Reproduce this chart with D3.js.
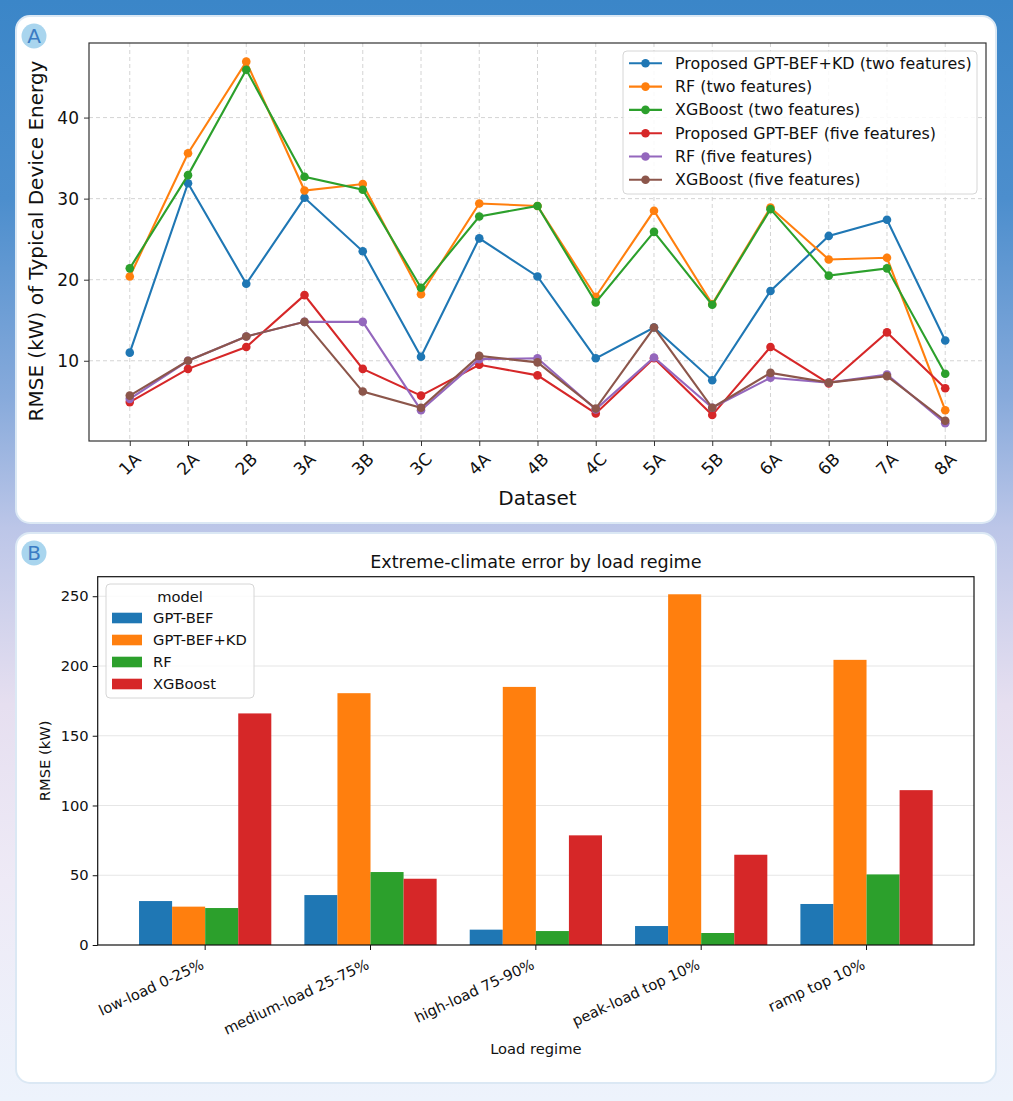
<!DOCTYPE html>
<html>
<head>
<meta charset="utf-8">
<script src="https://cdn.jsdelivr.net/npm/d3@7"></script>
<style>
    body { margin: 0; padding: 0; }
    svg { display: block; font-family: "DejaVu Sans", sans-serif; }
</style>
</head>
<body>
<script>
/*
*    two panel chart: RMSE by dataset + extreme-climate bars
*/

var width = 1013;
var height = 1101;

// Panel A data
var datasets = ["1A", "2A", "2B", "3A", "3B", "3C", "4A", "4B", "4C", "5A", "5B", "6A", "6B", "7A", "8A"];
var seriesNamesA = [
    "Proposed GPT-BEF+KD (two features)",
    "RF (two features)",
    "XGBoost (two features)",
    "Proposed GPT-BEF (five features)",
    "RF (five features)",
    "XGBoost (five features)"
];
var kdTwo   = [11.0, 31.9, 19.5, 30.1, 23.5, 10.5, 25.1, 20.4, 10.3, 14.1, 7.6, 18.6, 25.4, 27.4, 12.5];
var rfTwo   = [20.4, 35.6, 46.9, 31.0, 31.8, 18.2, 29.4, 29.1, 17.9, 28.5, 17.0, 28.9, 22.5, 22.7, 3.9];
var xgbTwo  = [21.4, 32.9, 45.9, 32.7, 31.1, 19.0, 27.8, 29.1, 17.2, 25.9, 16.9, 28.7, 20.5, 21.4, 8.4];
var gptFive = [4.9, 9.0, 11.7, 18.1, 9.0, 5.7, 9.5, 8.2, 3.5, 10.3, 3.3, 11.7, 7.2, 13.5, 6.6];
var rfFive  = [5.3, 10.0, 13.0, 14.8, 14.8, 3.9, 10.2, 10.3, 4.0, 10.4, 4.2, 7.9, 7.3, 8.3, 2.3];
var xgbFive = [5.7, 10.0, 13.0, 14.8, 6.2, 4.2, 10.6, 9.8, 4.1, 14.1, 4.2, 8.5, 7.3, 8.1, 2.6];
var yTicksA = [10, 20, 30, 40];

// Panel B data
var regimes = ["low-load 0-25%", "medium-load 25-75%", "high-load 75-90%", "peak-load top 10%", "ramp top 10%"];
var models = ["GPT-BEF", "GPT-BEF+KD", "RF", "XGBoost"];
var gptBef   = [31.5, 35.8, 11.0, 13.6, 29.4];
var gptBefKd = [27.5, 180.5, 185.0, 251.4, 204.4];
var rfB      = [26.5, 52.3, 10.0, 8.6, 50.6];
var xgbB     = [166.0, 47.5, 78.6, 64.7, 111.0];
var yTicksB = [0, 50, 100, 150, 200, 250];

var colors = ["#1f77b4", "#ff7f0e", "#2ca02c", "#d62728", "#9467bd", "#8c564b"];

var seriesA = [kdTwo, rfTwo, xgbTwo, gptFive, rfFive, xgbFive].map((vals, i) => ({
    name: seriesNamesA[i],
    color: colors[i],
    values: vals.map((v, j) => ({ d: datasets[j], v: v }))
}));
var seriesB = [gptBef, gptBefKd, rfB, xgbB];

//Canvas
var svg = d3.select("body")
    .append("svg")
        .attr("width", width)
        .attr("height", height);

var defs = svg.append("defs");
var bg = defs.append("linearGradient")
    .attr("id", "bg")
    .attr("x1", 0).attr("y1", 0).attr("x2", 0).attr("y2", 1);
[["0%", "#3b86c8"], ["18%", "#4c8ecd"], ["36%", "#87aadb"], ["48%", "#bcc6e8"], ["64%", "#e6dff0"], ["80%", "#eeeaf6"], ["100%", "#edf3fc"]]
    .forEach(s => bg.append("stop").attr("offset", s[0]).attr("stop-color", s[1]));

svg.append("rect")
    .attr("width", width)
    .attr("height", height)
    .attr("fill", "url(#bg)");

// cards
var cards = [{x: 16, y: 16, w: 980, h: 507, label: "A", by: 36},
             {x: 16, y: 533, w: 980, h: 550, label: "B", by: 553}];
cards.forEach(c => {
    svg.append("rect")
        .attr("x", c.x).attr("y", c.y)
        .attr("width", c.w).attr("height", c.h)
        .attr("rx", 14)
        .attr("fill", "#ffffff")
        .attr("stroke", "#dbe8f4")
        .attr("stroke-width", 2);
    svg.append("circle")
        .attr("cx", 34).attr("cy", c.by).attr("r", 12.5)
        .attr("fill", "#a9d5ee");
    svg.append("text")
        .attr("x", 34).attr("y", c.by)
        .attr("dy", "0.36em")
        .attr("text-anchor", "middle")
        .attr("font-size", 20)
        .attr("fill", "#3b7cc4")
        .text(c.label);
});

// ---------------- Panel A ----------------
var plotA = {left: 89, right: 986, top: 43, bottom: 441};

//Scales
var xA = d3.scalePoint()
    .domain(datasets)
    .range([plotA.left, plotA.right])
    .padding(0.7);

var yA = d3.scaleLinear()
    .domain([0.1, 49.2])
    .range([plotA.bottom, plotA.top]);

var gA = svg.append("g");

// grid
gA.append("g")
    .selectAll("line")
    .data(datasets)
    .enter()
    .append("line")
        .attr("x1", d => xA(d)).attr("x2", d => xA(d))
        .attr("y1", plotA.top).attr("y2", plotA.bottom)
        .attr("stroke", "#cfcfcf")
        .attr("stroke-width", 0.9)
        .attr("stroke-dasharray", "4,3");
gA.append("g")
    .selectAll("line")
    .data(yTicksA)
    .enter()
    .append("line")
        .attr("x1", plotA.left).attr("x2", plotA.right)
        .attr("y1", d => yA(d)).attr("y2", d => yA(d))
        .attr("stroke", "#cfcfcf")
        .attr("stroke-width", 0.9)
        .attr("stroke-dasharray", "4,3");

//Axes
var leftAxisA = d3.axisLeft(yA)
    .tickValues(yTicksA)
    .tickSize(5)
    .tickPadding(5);
gA.append("g")
    .attr("transform", "translate(" + plotA.left + ",0)")
    .call(leftAxisA)
    .call(g => g.select(".domain").remove())
    .call(g => g.selectAll("line").attr("stroke", "#333"))
    .selectAll("text")
        .attr("font-size", 17)
        .attr("font-family", "DejaVu Sans")
        .attr("fill", "#111");

var bottomAxisA = d3.axisBottom(xA)
    .tickSize(5)
    .tickFormat("");
gA.append("g")
    .attr("transform", "translate(0," + plotA.bottom + ")")
    .call(bottomAxisA)
    .call(g => g.select(".domain").remove())
    .call(g => g.selectAll("line").attr("stroke", "#333"));

gA.append("g")
    .selectAll("text")
    .data(datasets)
    .enter()
    .append("text")
        .attr("transform", d => "translate(" + xA(d) + "," + (plotA.bottom + 23) + ") rotate(-45)")
        .attr("text-anchor", "middle")
        .attr("dy", "0.35em")
        .attr("font-size", 17)
        .attr("fill", "#111")
        .text(d => d);

gA.append("text")
    .attr("x", (plotA.left + plotA.right) / 2)
    .attr("y", 505)
    .attr("text-anchor", "middle")
    .attr("font-size", 20)
    .attr("fill", "#111")
    .text("Dataset");

gA.append("text")
    .attr("transform", "translate(43," + ((plotA.top + plotA.bottom) / 2 - 1) + ") rotate(-90)")
    .attr("text-anchor", "middle")
    .attr("font-size", 20)
    .attr("fill", "#111")
    .text("RMSE (kW) of Typical Device Energy");

// lines
var lineA = d3.line()
    .x(d => xA(d.d))
    .y(d => yA(d.v));

seriesA.forEach(s => {
    var g = gA.append("g");
    g.append("path")
        .datum(s.values)
        .attr("d", lineA)
        .attr("fill", "none")
        .attr("stroke", s.color)
        .attr("stroke-width", 2.1);
    g.selectAll("circle")
        .data(s.values)
        .enter()
        .append("circle")
            .attr("cx", d => xA(d.d))
            .attr("cy", d => yA(d.v))
            .attr("r", 4.3)
            .attr("fill", s.color);
});

// frame
gA.append("rect")
    .attr("x", plotA.left).attr("y", plotA.top)
    .attr("width", plotA.right - plotA.left)
    .attr("height", plotA.bottom - plotA.top)
    .attr("fill", "none")
    .attr("stroke", "#333")
    .attr("stroke-width", 1.2);

// legend
var legA = gA.append("g");
legA.append("rect")
    .attr("x", 623).attr("y", 51)
    .attr("width", 354).attr("height", 143)
    .attr("rx", 4)
    .attr("fill", "rgba(255,255,255,0.85)")
    .attr("stroke", "#d6d6d6");
seriesA.forEach((s, i) => {
    var ly = 63.3 + i * 23.3;
    legA.append("line")
        .attr("x1", 629).attr("x2", 662)
        .attr("y1", ly).attr("y2", ly)
        .attr("stroke", s.color)
        .attr("stroke-width", 2.1);
    legA.append("circle")
        .attr("cx", 645.5).attr("cy", ly).attr("r", 4.3)
        .attr("fill", s.color);
    legA.append("text")
        .attr("x", 675).attr("y", ly)
        .attr("dy", "0.35em")
        .attr("font-size", 15.9)
        .attr("fill", "#111")
        .text(s.name);
});

// ---------------- Panel B ----------------
var plotB = {left: 97.7, right: 974, top: 576.7, bottom: 945};

//Scales
var xB = d3.scaleBand()
    .domain(regimes)
    .range([plotB.left, plotB.right])
    .paddingInner(0.2)
    .paddingOuter(0.25);

var xSub = d3.scaleBand()
    .domain(models)
    .range([0, xB.bandwidth()]);

var yB = d3.scaleLinear()
    .domain([0, 264])
    .range([plotB.bottom, plotB.top]);

var gB = svg.append("g");

gB.append("text")
    .attr("x", (plotB.left + plotB.right) / 2)
    .attr("y", 568)
    .attr("text-anchor", "middle")
    .attr("font-size", 17.6)
    .attr("fill", "#111")
    .text("Extreme-climate error by load regime");

// grid
gB.append("g")
    .selectAll("line")
    .data(yTicksB.filter(d => d > 0))
    .enter()
    .append("line")
        .attr("x1", plotB.left).attr("x2", plotB.right)
        .attr("y1", d => yB(d)).attr("y2", d => yB(d))
        .attr("stroke", "#e6e6e6")
        .attr("stroke-width", 1.2);

//Axes
var leftAxisB = d3.axisLeft(yB)
    .tickValues(yTicksB)
    .tickSize(5)
    .tickPadding(4);
gB.append("g")
    .attr("transform", "translate(" + plotB.left + ",0)")
    .call(leftAxisB)
    .call(g => g.select(".domain").remove())
    .call(g => g.selectAll("line").attr("stroke", "#111"))
    .selectAll("text")
        .attr("font-size", 14.7)
        .attr("font-family", "DejaVu Sans")
        .attr("fill", "#111");

var bottomAxisB = d3.axisBottom(xB)
    .tickSize(5)
    .tickFormat("");
gB.append("g")
    .attr("transform", "translate(0," + plotB.bottom + ")")
    .call(bottomAxisB)
    .call(g => g.select(".domain").remove())
    .call(g => g.selectAll("line").attr("stroke", "#111"));

gB.append("g")
    .selectAll("text")
    .data(regimes)
    .enter()
    .append("text")
        .attr("transform", d => "translate(" + (xB(d) + xB.bandwidth() / 2 - 5) + "," + (plotB.bottom + 13) + ") rotate(-25)")
        .attr("text-anchor", "end")
        .attr("dy", "0.75em")
        .attr("font-size", 14.7)
        .attr("fill", "#111")
        .text(d => d);

gB.append("text")
    .attr("x", (plotB.left + plotB.right) / 2)
    .attr("y", 1054)
    .attr("text-anchor", "middle")
    .attr("font-size", 14.7)
    .attr("fill", "#111")
    .text("Load regime");

gB.append("text")
    .attr("transform", "translate(50," + ((plotB.top + plotB.bottom) / 2) + ") rotate(-90)")
    .attr("text-anchor", "middle")
    .attr("font-size", 14.7)
    .attr("fill", "#111")
    .text("RMSE (kW)");

// bars
models.forEach((m, i) => {
    gB.append("g")
        .selectAll("rect")
        .data(seriesB[i])
        .enter()
        .append("rect")
            .attr("x", (d, j) => xB(regimes[j]) + xSub(m))
            .attr("y", d => yB(d))
            .attr("width", xSub.bandwidth())
            .attr("height", d => plotB.bottom - yB(d))
            .attr("fill", colors[i]);
});

// frame
gB.append("rect")
    .attr("x", plotB.left).attr("y", plotB.top)
    .attr("width", plotB.right - plotB.left)
    .attr("height", plotB.bottom - plotB.top)
    .attr("fill", "none")
    .attr("stroke", "#111")
    .attr("stroke-width", 1.2);

// legend
var legB = gB.append("g");
legB.append("rect")
    .attr("x", 106).attr("y", 584)
    .attr("width", 148).attr("height", 114)
    .attr("rx", 4)
    .attr("fill", "rgba(255,255,255,0.85)")
    .attr("stroke", "#d6d6d6");
legB.append("text")
    .attr("x", 180).attr("y", 597)
    .attr("dy", "0.35em")
    .attr("text-anchor", "middle")
    .attr("font-size", 14.7)
    .attr("fill", "#111")
    .text("model");
models.forEach((m, i) => {
    var ly = 618 + i * 22;
    legB.append("rect")
        .attr("x", 112).attr("y", ly - 5.3)
        .attr("width", 30).attr("height", 10.6)
        .attr("fill", colors[i]);
    legB.append("text")
        .attr("x", 153).attr("y", ly)
        .attr("dy", "0.35em")
        .attr("font-size", 14.7)
        .attr("fill", "#111")
        .text(m);
});
</script>
</body>
</html>
